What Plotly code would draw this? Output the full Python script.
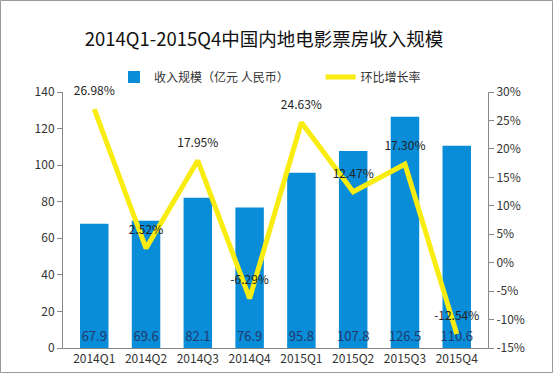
import plotly.graph_objects as go

categories = ["2014Q1", "2014Q2", "2014Q3", "2014Q4", "2015Q1", "2015Q2", "2015Q3", "2015Q4"]
revenue = [67.9, 69.6, 82.1, 76.9, 95.8, 107.8, 126.5, 110.6]
growth = [26.98, 2.52, 17.95, -6.29, 24.63, 12.47, 17.30, -12.54]
growth_labels = ["26.98%", "2.52%", "17.95%", "-6.29%", "24.63%", "12.47%", "17.30%", "-12.54%"]
left_ticks = [0, 20, 40, 60, 80, 100, 120, 140]
right_ticks = [-15, -10, -5, 0, 5, 10, 15, 20, 25, 30]
right_tick_labels = ["-15%", "-10%", "-5%", "0%", "5%", "10%", "15%", "20%", "25%", "30%"]

W, H = 553, 373
ml, mr, mt, mb = 63, 65, 92, 25
pw, ph = W - ml - mr, H - mt - mb

font_main = "Noto Sans CJK SC, Noto Sans, sans-serif"
pad = "\u00a0" * 10

fig = go.Figure()
fig.add_trace(go.Bar(
    x=categories, y=revenue, name="收入规模（亿元 人民币）" + pad,
    marker=dict(color="#0A8DD8", line=dict(width=0)),
    text=[f"{v:.1f}" for v in revenue], textposition="inside",
    insidetextanchor="start", textangle=0,
    textfont=dict(color="#1F3A6B", size=13),
    width=0.55,
))
fig.add_trace(go.Scatter(
    x=categories, y=growth, name="环比增长率", yaxis="y2",
    mode="lines+markers+text", line=dict(color="#F8EC10", width=5),
    marker=dict(size=16, color="rgba(0,0,0,0)"),
    text=growth_labels, textposition="top center", cliponaxis=False,
    textfont=dict(color="#222222", size=12),
))

fig.update_layout(
    width=W, height=H,
    margin=dict(l=ml, r=mr, t=mt, b=mb, autoexpand=False),
    paper_bgcolor="white", plot_bgcolor="white",
    font=dict(family=font_main, size=12, color="#333333"),
    uniformtext=dict(minsize=13, mode="show"),
    title=dict(text="2014Q1-2015Q4中国内地电影票房收入规模", x=(264 - 0) / W, xanchor="center",
               y=1 - 40 / H, yanchor="middle", font=dict(size=18.5, color="#111111")),
    legend=dict(orientation="h", x=(270 - ml) / pw, xanchor="center", y=1 + 15 / ph, yanchor="middle",
                font=dict(size=12, color="#333333"), bgcolor="rgba(0,0,0,0)",
                itemwidth=30, tracegroupgap=0),
    showlegend=True,
    bargap=0.45,
    xaxis=dict(showline=True, linecolor="#888888", linewidth=1, ticks="",
               tickfont=dict(size=12, color="#333333"), showgrid=False),
    yaxis=dict(range=[0, 140], tickvals=left_ticks, showline=True, linecolor="#888888",
               ticks="outside", ticklen=5, tickcolor="#888888", showgrid=False,
               tickfont=dict(size=12, color="#333333"), zeroline=False),
    yaxis2=dict(range=[-15, 30], tickvals=right_ticks, ticktext=right_tick_labels,
                overlaying="y", side="right", showline=True, linecolor="#888888",
                ticks="outside", ticklen=5, tickcolor="#888888", showgrid=False,
                tickfont=dict(size=12, color="#333333"), zeroline=False),
    shapes=[dict(type="rect", xref="paper", yref="paper",
                 x0=-ml / pw + 0.5 / pw, x1=1 + (mr - 0.5) / pw,
                 y0=-mb / ph + 0.5 / ph, y1=1 + (mt - 0.5) / ph,
                 line=dict(color="#999999", width=1))],
)

fig.write_html("out.html", config={"displayModeBar": False},
               post_script="document.body.style.margin='0';document.body.style.padding='0';")
